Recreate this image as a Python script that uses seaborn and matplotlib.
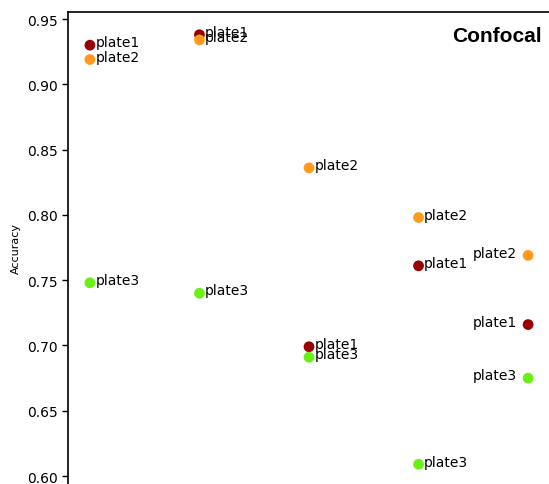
import numpy as np
import pandas as pd
import matplotlib
matplotlib.use("Agg")
import matplotlib.pyplot as plt
import seaborn as sns

categories = ["c1", "c2", "c3", "c4", "c5"]
plate1 = [0.930, 0.938, 0.699, 0.761, 0.716]
plate2 = [0.919, 0.934, 0.836, 0.798, 0.769]
plate3 = [0.748, 0.740, 0.691, 0.609, 0.675]
series_names = ["plate1", "plate2", "plate3"]
colors = {"plate1": "#990000", "plate2": "#FF9A1E", "plate3": "#6AF014"}

rows = []
for name, vals in zip(series_names, [plate1, plate2, plate3]):
    for c, v in zip(categories, vals):
        rows.append({"cat": c, "acc": v, "plate": name})
df = pd.DataFrame(rows)

sns.set_style("ticks")
plt.rcParams["text.color"] = "black"
plt.rcParams["axes.labelcolor"] = "black"
plt.rcParams["ytick.color"] = "black"
plt.rcParams["xtick.color"] = "black"
fig = plt.figure(figsize=(5.49, 4.85), dpi=100)
ax = fig.add_axes([68 / 549, 0.0, 482 / 549, 1 - 13 / 485])

sns.scatterplot(data=df, x="cat", y="acc", hue="plate", palette=colors,
                s=60, edgecolor="none", legend=False, ax=ax, zorder=3)

ax.set_xlim(-0.2, 4.2)
ax.set_ylim(0.5939, 0.9554)
ax.set_yticks([0.60, 0.65, 0.70, 0.75, 0.80, 0.85, 0.90, 0.95])
ax.set_yticklabels(["0.60", "0.65", "0.70", "0.75", "0.80", "0.85", "0.90", "0.95"], fontsize=10)
ax.tick_params(axis="y", length=4, width=1, color="black", labelcolor="black")
ax.set_xticks([])
ax.set_xlabel("")
ax.set_ylabel("Accuracy", fontsize=8, color="black")

for side in ["bottom", "right"]:
    ax.spines[side].set_visible(False)
for side in ["left", "top"]:
    ax.spines[side].set_visible(True)
    ax.spines[side].set_color("black")
    ax.spines[side].set_linewidth(1.2)

for i, row in df.iterrows():
    xi = categories.index(row["cat"])
    if xi == len(categories) - 1:
        ax.annotate(row["plate"], (xi, row["acc"]), xytext=(-8, 2),
                    textcoords="offset points", ha="right", va="center",
                    fontsize=10, color="black")
    else:
        ax.annotate(row["plate"], (xi, row["acc"]), xytext=(4, 2),
                    textcoords="offset points", ha="left", va="center",
                    fontsize=10, color="black")

ax.text(0.982, 0.97, "Confocal", transform=ax.transAxes, ha="right", va="top",
        fontsize=15, fontweight="bold", family="Liberation Sans", color="black")

fig.savefig("out.png", dpi=100)
